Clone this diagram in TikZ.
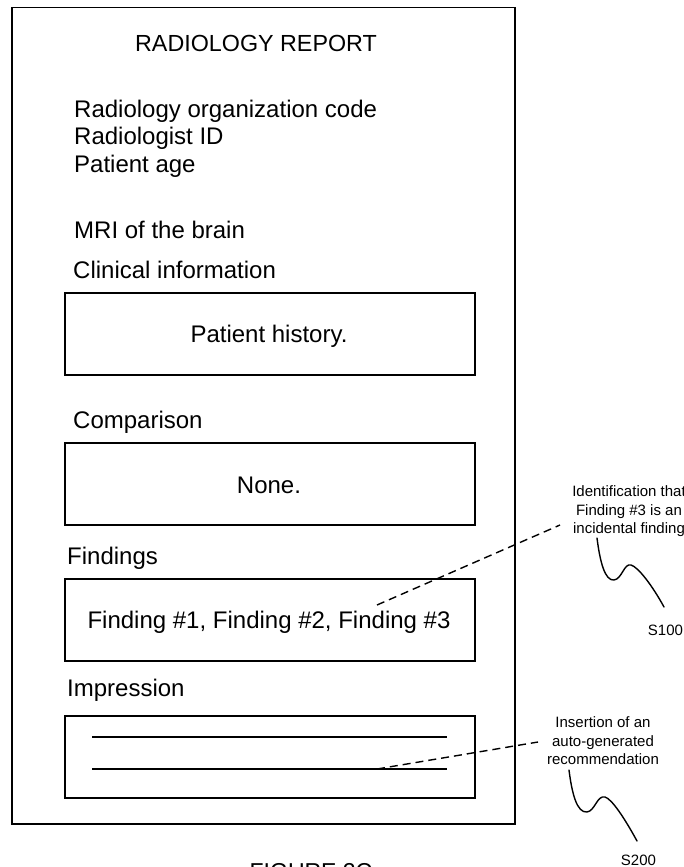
\documentclass[tikz,border=0pt]{standalone}
\usepackage{fontspec}
\setmainfont{Liberation Sans}
\begin{document}
\begin{tikzpicture}[x=1pt,y=-1pt,
  frame/.style={draw,line width=1.5pt,inner sep=0pt,anchor=north west},
  big/.style={font=\fontsize{24}{28}\selectfont,inner sep=0pt},
  small/.style={font=\fontsize{15}{18.5}\selectfont,inner sep=0pt,align=center},
  leader/.style={line width=1.4pt,dash pattern=on 8pt off 5pt},
  squig/.style={line width=1.4pt,line cap=round},
  rule/.style={line width=1.4pt}]
\useasboundingbox (0,0) rectangle (684,867);
\fill[white] (0,0) rectangle (684,867);

% outer report page and section boxes
\node[frame, minimum width=503pt, minimum height=816pt] (page) at (11,7) {};
\node[frame, minimum width=410pt, minimum height=82pt] (boxhist) at (64,292) {};
\node[frame, minimum width=410pt, minimum height=82pt] (boxnone) at (64,442) {};
\node[frame, minimum width=410pt, minimum height=82pt] (boxfind) at (64,578) {};
\node[frame, minimum width=410pt, minimum height=82pt] (boximpr) at (64,715) {};

% texts
\node[big, font=\fontsize{23.3}{28}\selectfont, anchor=base] (title) at (256,52) {RADIOLOGY REPORT};
\node[big, anchor=base west] (org) at (74,117) {Radiology organization code};
\node[big, anchor=base west] (rid) at (74,144) {Radiologist ID};
\node[big, anchor=base west] (age) at (74,172) {Patient age};
\node[big, anchor=base west] (mri) at (74,238) {MRI of the brain};
\node[big, anchor=base west] (clin) at (73,278) {Clinical information};
\node[big, anchor=base] (hist) at (269,342) {Patient history.};
\node[big, anchor=base west] (comp) at (73,428) {Comparison};
\node[big, anchor=base] (none) at (269,493) {None.};
\node[big, anchor=base west] (find) at (67,564) {Findings};
\node[big, anchor=base] (flist) at (269,628) {Finding \#1, Finding \#2, Finding \#3};
\node[big, anchor=base west] (impr) at (67,696) {Impression};

% impression placeholder lines
\coordinate (i1a) at (92,737);
\coordinate (i1b) at (447,737);
\coordinate (i2a) at (92,769);
\coordinate (i2b) at (447,769);
\draw[rule] (i1a) -- (i1b);
\draw[rule] (i2a) -- (i2b);

% annotation labels
\node[small] (lab1) at (629,511.5) {Identification that\\Finding \#3 is an\\incidental finding};
\node[small] (lab2) at (603,741) {Insertion of an\\auto-generated\\recommendation};
\node[small, anchor=base] (s100) at (665.5,635) {S100};
\node[small, anchor=base] (s200) at (638.5,865) {S200};
\node[big, font=\fontsize{23}{28}\selectfont, anchor=base] (fig) at (311,879.5) {FIGURE 2C};

% dashed leaders
\coordinate (f3) at (377,605);
\coordinate (lab1end) at (560,525);
\draw[leader] (f3) -- (lab1end);
\coordinate (rec) at (377,769);
\coordinate (lab2end) at (538,742);
\draw[leader] (rec) -- (lab2end);

% squiggles
\coordinate (q1a) at (597,538);
\coordinate (q1b) at (664,607);
\draw[squig] (q1a) .. controls (600,562) and (605,581) .. (614,580)
  .. controls (622,579) and (624,563) .. (631,565)
  .. controls (638,567) and (652,585) .. (q1b);
\coordinate (q2a) at (569,770);
\coordinate (q2b) at (637,841);
\draw[squig] (q2a) .. controls (572,794) and (577,813) .. (587,812)
  .. controls (595,811) and (597,795) .. (605,797)
  .. controls (612,799) and (625,819) .. (q2b);
\end{tikzpicture}
\end{document}
